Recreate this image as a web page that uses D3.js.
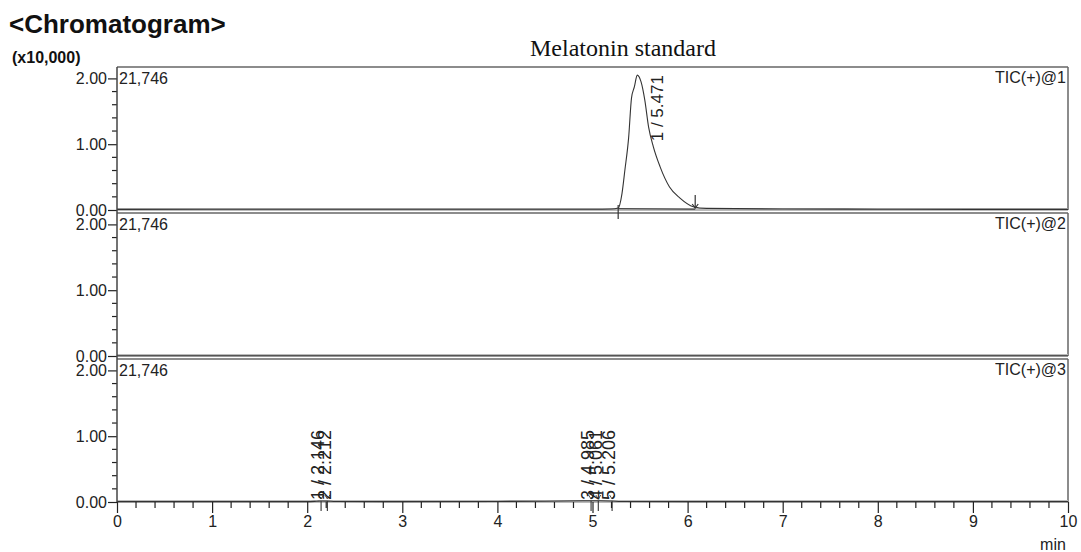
<!DOCTYPE html>
<html>
<head>
<meta charset="utf-8">
<script src="https://cdn.jsdelivr.net/npm/d3@7/dist/d3.min.js"></script>
<style>
  html, body { margin: 0; padding: 0; background: #fff; }
  svg { display: block; font-family: "Liberation Sans", Arial, sans-serif; }
</style>
</head>
<body>
<svg id="chart" width="1081" height="552"></svg>
<script>
// Retention time axis (min) and intensity axis (x10,000)
const timeTicks = [0, 1, 2, 3, 4, 5, 6, 7, 8, 9, 10];
const intensityTicks = [0, 1, 2];
const channelNames = ["TIC(+)@1", "TIC(+)@2", "TIC(+)@3"];
const maxIntensity = [21746, 21746, 21746];

// TIC channel 1: melatonin peak
const trace1Time = [0, 1, 2, 3, 4, 5, 5.2, 5.27, 5.31, 5.34, 5.38, 5.41, 5.44, 5.471, 5.51, 5.55, 5.59, 5.64, 5.71, 5.81, 5.92, 6.06, 6.2, 7, 8, 9, 10];
const trace1Value = [0.010, 0.012, 0.011, 0.012, 0.011, 0.012, 0.015, 0.030, 0.25, 0.60, 1.10, 1.70, 1.87, 2.05, 1.95, 1.67, 1.26, 0.96, 0.66, 0.35, 0.18, 0.05, 0.025, 0.015, 0.012, 0.010, 0.010];

// TIC channel 2: flat
const trace2Time = [0, 2, 4, 6, 8, 10];
const trace2Value = [0.004, 0.004, 0.004, 0.004, 0.004, 0.004];

// TIC channel 3: small features only
const trace3Time = [0, 1, 2, 2.1, 2.15, 2.21, 2.3, 3, 4, 4.5, 4.9, 5.0, 5.06, 5.2, 5.3, 6, 8, 10];
const trace3Value = [0.005, 0.005, 0.006, 0.012, 0.016, 0.014, 0.007, 0.006, 0.008, 0.012, 0.018, 0.020, 0.019, 0.015, 0.008, 0.006, 0.005, 0.005];

// Peak tables
const peaks1Id = [1];
const peaks1Rt = [5.471];
const peaks1Start = [5.27];
const peaks1End = [6.08];
const peaks3Id = [1, 2, 3, 4, 5];
const peaks3Rt = [2.146, 2.212, 4.985, 5.061, 5.206];

const traces = [
  { time: trace1Time, value: trace1Value },
  { time: trace2Time, value: trace2Value },
  { time: trace3Time, value: trace3Value }
];

const svg = d3.select("#chart");
const ink = "#222";
const frame = "#666";

const left = 117, right = 1068;
const unitPx = 65.8;
const zeroY = [210, 356, 502];

const x = d3.scaleLinear().domain([0, 10]).range([left, right]);

// Header texts
svg.append("text").attr("x", 9).attr("y", 33)
  .attr("font-size", 26).attr("font-weight", "bold").attr("fill", "#111")
  .text("<Chromatogram>");
svg.append("text").attr("x", 12).attr("y", 63)
  .attr("font-size", 16).attr("font-weight", "bold").attr("fill", "#111")
  .text("(x10,000)");
svg.append("text").attr("x", 623).attr("y", 56)
  .attr("font-family", "'Liberation Serif', 'Times New Roman', serif")
  .attr("font-size", 24).attr("text-anchor", "middle").attr("fill", "#111")
  .text("Melatonin standard");

const scales = [];

channelNames.forEach((name, i) => {
  const top = maxIntensity[i] / 10000;
  const y = d3.scaleLinear().domain([0, top]).range([zeroY[i], zeroY[i] - top * unitPx]);
  scales.push(y);
  const g = svg.append("g");

  // panel frame: top and right edges
  g.append("line").attr("x1", x(0)).attr("x2", x(10))
    .attr("y1", y(top)).attr("y2", y(top))
    .attr("stroke", frame).attr("stroke-width", 1.5);
  g.append("line").attr("x1", x(10)).attr("x2", x(10))
    .attr("y1", y(top)).attr("y2", y(0))
    .attr("stroke", frame).attr("stroke-width", 1.5);

  // zero band
  g.append("line").attr("x1", x(0)).attr("x2", x(10))
    .attr("y1", y(0) - 0.5).attr("y2", y(0) - 0.5)
    .attr("stroke", "#bbb").attr("stroke-width", 3);

  // left axis with minor ticks every 0.2
  const axis = d3.axisLeft(y).tickValues(intensityTicks)
    .tickFormat(d3.format(".2f")).tickSize(9).tickPadding(1);
  const ag = g.append("g").attr("transform", `translate(${left},0)`).call(axis);
  ag.select(".domain").remove();
  ag.selectAll(".tick line").attr("stroke", ink).attr("stroke-width", 1.2);
  ag.selectAll(".tick text").attr("font-size", 16).attr("fill", ink)
    .attr("font-family", "'Liberation Sans', Arial, sans-serif");
  const minor = d3.range(0.2, top, 0.2).filter(v => Math.abs(v - 1) > 1e-6 && Math.abs(v - 2) > 1e-6);
  g.selectAll(".minorY").data(minor).join("line")
    .attr("x1", left - 5).attr("x2", left)
    .attr("y1", d => y(d)).attr("y2", d => y(d))
    .attr("stroke", ink).attr("stroke-width", 1.2);

  // trace
  const tr = traces[i];
  const line = d3.line().x(d => x(d[0])).y(d => y(d[1])).curve(d3.curveMonotoneX);
  g.append("path").datum(d3.zip(tr.time, tr.value))
    .attr("d", line).attr("fill", "none")
    .attr("stroke", "#333").attr("stroke-width", 1.1);

  // max intensity and channel labels
  g.append("text").attr("x", left + 2).attr("y", y(top) + 17)
    .attr("font-size", 16).attr("fill", ink)
    .text(d3.format(",")(maxIntensity[i]));
  g.append("text").attr("x", right - 2).attr("y", y(top) + 16)
    .attr("font-size", 16).attr("fill", ink).attr("text-anchor", "end")
    .text(name);
});

// continuous left axis line
svg.append("line").attr("x1", left).attr("x2", left)
  .attr("y1", scales[0](maxIntensity[0] / 10000)).attr("y2", zeroY[2])
  .attr("stroke", "#444").attr("stroke-width", 1.5);

// Channel 1 peak: integration baseline, markers and label
{
  const y = scales[0];
  const g = svg.append("g");
  peaks1Rt.forEach((rt, k) => {
    const s = peaks1Start[k], e = peaks1End[k];
    g.append("line").attr("x1", x(s)).attr("x2", x(e))
      .attr("y1", y(0.02)).attr("y2", y(0.012))
      .attr("stroke", "#333").attr("stroke-width", 1);
    g.append("line").attr("x1", x(s)).attr("x2", x(s))
      .attr("y1", y(0) - 5).attr("y2", y(0) + 9)
      .attr("stroke", "#333").attr("stroke-width", 1.2);
    g.append("line").attr("x1", x(e)).attr("x2", x(e))
      .attr("y1", y(0) - 15).attr("y2", y(0) - 2)
      .attr("stroke", "#333").attr("stroke-width", 1.2);
    g.append("path")
      .attr("d", `M${x(e) - 3},${y(0) - 6} L${x(e)},${y(0) - 2} L${x(e) + 3},${y(0) - 6}`)
      .attr("fill", "none").attr("stroke", "#333").attr("stroke-width", 1.2);
    const apexY = y(d3.max(trace1Value));
    g.append("text")
      .attr("transform", `translate(${x(rt) + 20},${apexY}) rotate(-90)`)
      .attr("dy", "0.35em").attr("text-anchor", "end")
      .attr("font-size", 17).attr("fill", ink)
      .text(`${peaks1Id[k]} / ${rt.toFixed(3)}`);
  });
}

// Channel 3 peaks: markers and labels
{
  const y = scales[2];
  const g = svg.append("g");
  peaks3Rt.forEach((rt, k) => {
    g.append("line").attr("x1", x(rt)).attr("x2", x(rt))
      .attr("y1", y(0) - 1).attr("y2", y(0) + 9)
      .attr("stroke", "#333").attr("stroke-width", 1.1);
    g.append("path")
      .attr("d", `M${x(rt) - 2.5},${y(0) - 7} L${x(rt)},${y(0) - 3} L${x(rt) + 2.5},${y(0) - 7}`)
      .attr("fill", "none").attr("stroke", "#555").attr("stroke-width", 1);
    g.append("text")
      .attr("transform", `translate(${x(rt) - 3},${y(0) - 2}) rotate(-90)`)
      .attr("dy", "0.35em").attr("text-anchor", "start")
      .attr("font-size", 18).attr("fill", ink)
      .text(`${peaks3Id[k]} / ${rt.toFixed(3)}`);
  });
}

// Time axis
{
  const axis = d3.axisBottom(x).tickValues(timeTicks).tickFormat(d3.format("d"))
    .tickSize(11).tickPadding(3);
  const ag = svg.append("g").attr("transform", `translate(0,${zeroY[2]})`).call(axis);
  ag.select(".domain").remove();
  ag.selectAll(".tick line").attr("stroke", ink).attr("stroke-width", 1.2);
  ag.selectAll(".tick text").attr("font-size", 16).attr("fill", ink)
    .attr("font-family", "'Liberation Sans', Arial, sans-serif");
  const minor = d3.range(0, 10, 0.2).filter(v => Math.abs(v - Math.round(v)) > 1e-6);
  svg.selectAll(".minorX").data(minor).join("line")
    .attr("x1", d => x(d)).attr("x2", d => x(d))
    .attr("y1", zeroY[2]).attr("y2", zeroY[2] + 6)
    .attr("stroke", ink).attr("stroke-width", 1.2);
  svg.append("text").attr("x", 1053).attr("y", 550)
    .attr("font-size", 16).attr("fill", ink).attr("text-anchor", "middle")
    .text("min");
}
</script>
</body>
</html>
